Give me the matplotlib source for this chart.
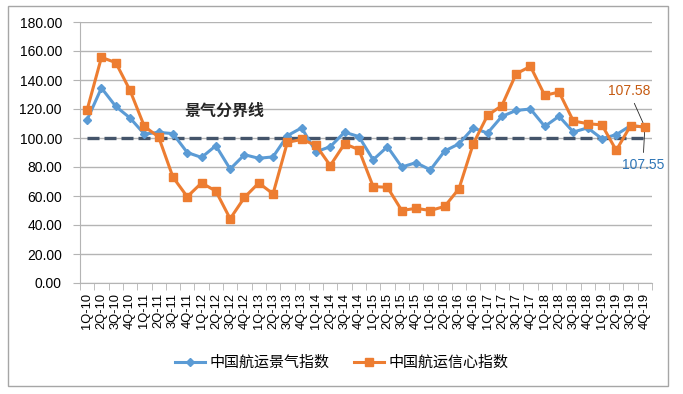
import matplotlib.pyplot as plt
import numpy as np
from matplotlib.patches import Rectangle

plt.rcParams['font.family'] = ['Liberation Sans', 'Noto Sans CJK SC', 'DejaVu Sans']

quarters = ['1Q-10', '2Q-10', '3Q-10', '4Q-10', '1Q-11', '2Q-11', '3Q-11', '4Q-11',
            '1Q-12', '2Q-12', '3Q-12', '4Q-12', '1Q-13', '2Q-13', '3Q-13', '4Q-13',
            '1Q-14', '2Q-14', '3Q-14', '4Q-14', '1Q-15', '2Q-15', '3Q-15', '4Q-15',
            '1Q-16', '2Q-16', '3Q-16', '4Q-16', '1Q-17', '2Q-17', '3Q-17', '4Q-17',
            '1Q-18', '2Q-18', '3Q-18', '4Q-18', '1Q-19', '2Q-19', '3Q-19', '4Q-19']

# 中国航运景气指数
prosperity = [112.6, 134.5, 121.8, 113.8, 102.7, 103.9, 103.0, 90.0,
              86.6, 94.7, 78.6, 88.5, 86.0, 87.0, 101.6, 107.0,
              90.5, 94.0, 104.0, 101.0, 85.0, 94.0, 80.0, 83.0,
              78.0, 91.0, 96.0, 106.9, 103.4, 114.9, 119.0, 120.0,
              108.0, 115.0, 104.1, 107.0, 99.5, 102.3, 108.5, 107.55]

# 中国航运信心指数
confidence = [119.5, 155.6, 152.0, 132.8, 108.0, 100.7, 73.0, 59.5,
              69.0, 63.4, 44.3, 59.0, 69.0, 61.5, 97.0, 99.0,
              95.0, 81.0, 96.0, 92.0, 66.5, 66.0, 50.0, 51.5,
              50.0, 52.8, 65.0, 96.0, 115.6, 122.3, 144.3, 149.4,
              129.4, 131.7, 111.7, 109.9, 109.0, 91.5, 108.5, 107.58]

boundary = 100  # 景气分界线

blue = '#5B9BD5'
orange = '#ED7D31'
grid_c = '#B4B4B4'

x = np.arange(len(quarters))

fig = plt.figure(figsize=(6.83, 3.94), dpi=100)
ax = fig.add_axes([80/683, 1-283/394, 572/683, 261/394])

ax.plot(x, [boundary]*len(x), color='#44546A', lw=2.4, dashes=(3.6, 1.5), zorder=2)
ax.plot(x, prosperity, color=blue, lw=2.2, marker='D', ms=4.5, zorder=3,
        label='中国航运景气指数')
ax.plot(x, confidence, color=orange, lw=2.2, marker='s', ms=5.5, zorder=4,
        label='中国航运信心指数')

ax.set_xlim(-0.5, len(x) - 0.5)
ax.set_ylim(0, 180)
ax.set_yticks(np.arange(0, 181, 20))
ax.set_yticklabels([f'{v:.2f}' for v in range(0, 181, 20)], fontsize=10)
ax.set_xticks(x)
ax.set_xticklabels(quarters, rotation=90, fontsize=9.3)
ax.set_xticks(np.arange(-0.5, len(x), 1), minor=True)
ax.tick_params(axis='x', which='major', length=0, pad=7)
ax.tick_params(axis='x', which='minor', length=5, color=grid_c)
ax.tick_params(axis='y', length=5, color=grid_c, pad=8)
ax.yaxis.grid(True, color=grid_c, lw=1)
ax.set_axisbelow(True)
for s in ['top', 'right']:
    ax.spines[s].set_visible(False)
for s in ['left', 'bottom']:
    ax.spines[s].set_color(grid_c)

ax.text(6.8, 119, '景气分界线', fontsize=11.5, fontweight='bold',
        family=['Noto Sans CJK SC'], color='#262626', va='center')

ax.annotate(f'{confidence[-1]:.2f}', xy=(x[-1], confidence[-1]), xytext=(-16, 36),
            textcoords='offset pixels', color='#C55A11', fontsize=10,
            ha='center', va='center',
            arrowprops=dict(arrowstyle='-', color='#262626', lw=0.6, shrinkA=2, shrinkB=0))
ax.annotate(f'{prosperity[-1]:.2f}', xy=(x[-1], prosperity[-1]), xytext=(-2, -38),
            textcoords='offset pixels', color='#2E75B6', fontsize=10,
            ha='center', va='center',
            arrowprops=dict(arrowstyle='-', color='#262626', lw=0.6, shrinkA=2, shrinkB=0))

fig.legend(loc='center', bbox_to_anchor=(0.5, 1-363/394), ncol=2, frameon=False,
           prop={'family': ['Noto Sans CJK SC'], 'size': 10.8},
           handlelength=2.0, columnspacing=1.6, handletextpad=0.3)

fig.patches.append(Rectangle((8/683, 1-386/394), 660/683, 380/394, transform=fig.transFigure,
                             fill=False, edgecolor='#A6A6A6', lw=1))

fig.savefig('out.png', dpi=100)
